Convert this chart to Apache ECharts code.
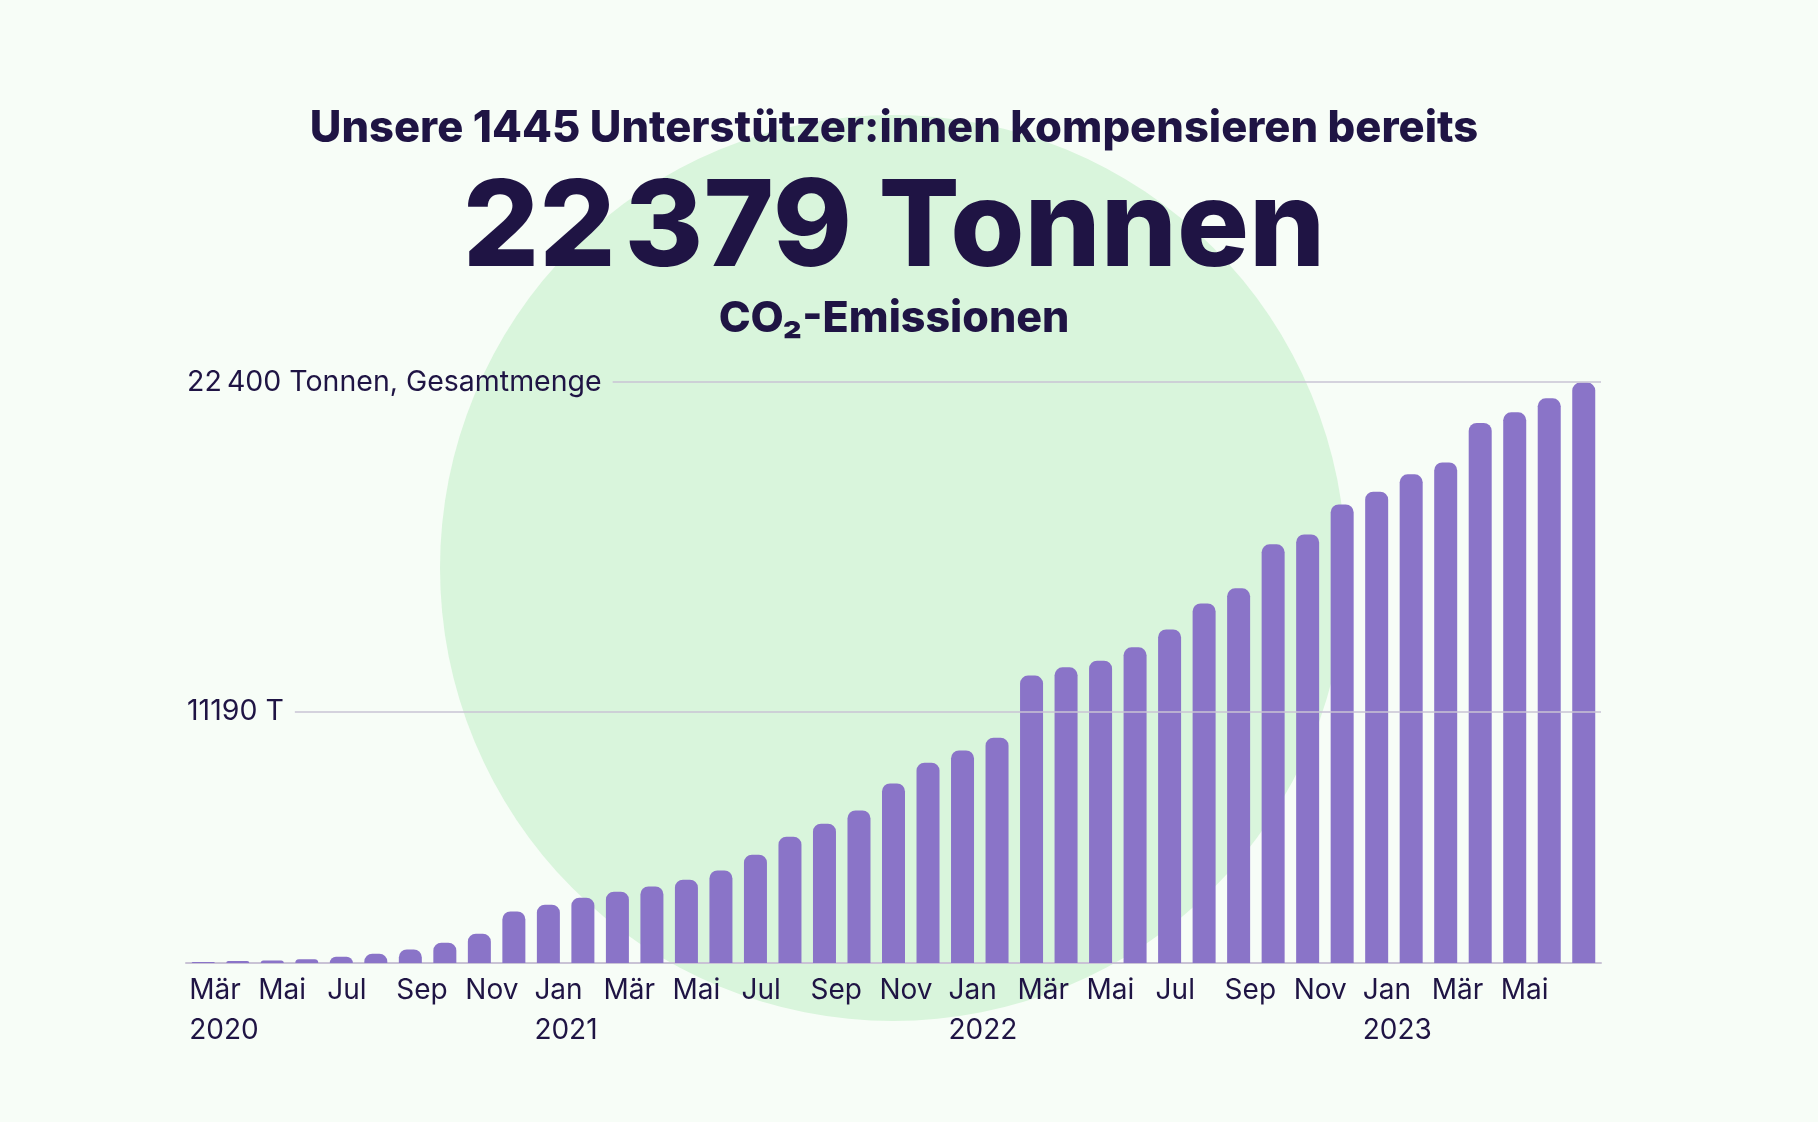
<!DOCTYPE html>
<html lang="de">
<head>
<meta charset="UTF-8">
<title>CO2-Kompensation</title>
<script src="https://cdn.jsdelivr.net/npm/echarts@6.0.0/dist/echarts.min.js"></script>
<style>
  * { margin: 0; padding: 0; box-sizing: border-box; }
  html, body { width: 100%; height: 100%; overflow: hidden; background: #f7fdf7; }
  #chart { width: 1818px; height: 1122px; }
</style>
</head>
<body>
<div id="chart"></div>
<script>
// Monate Mär 2020 bis Jul 2023
const months = ['Mär','Apr','Mai','Jun','Jul','Aug','Sep','Okt','Nov','Dez',
  'Jan','Feb','Mär','Apr','Mai','Jun','Jul','Aug','Sep','Okt','Nov','Dez',
  'Jan','Feb','Mär','Apr','Mai','Jun','Jul','Aug','Sep','Okt','Nov','Dez',
  'Jan','Feb','Mär','Apr','Mai','Jun','Jul'];
// beschriftete Ticks (leer = keine Beschriftung)
const tickMonths = ['Mär','','Mai','','Jul','','Sep','','Nov','',
  'Jan','','Mär','','Mai','','Jul','','Sep','','Nov','',
  'Jan','','Mär','','Mai','','Jul','','Sep','','Nov','',
  'Jan','','Mär','','Mai','',''];
const tickYears = {0: '2020', 10: '2021', 22: '2022', 34: '2023'};

// kumulierte Tonnen CO2
const tonnes = [40, 80, 100, 140, 240, 360, 525, 780, 1130, 1990,
  2250, 2520, 2750, 2950, 3210, 3570, 4175, 4870, 5370, 5880,
  6925, 7720, 8195, 8685, 11080, 11400, 11655, 12170, 12860, 13865,
  14445, 16140, 16525, 17680, 18170, 18840, 19300, 20820, 21230, 21770,
  22379];

const refValues = [22400, 9685];
const refLabels = ['22\u2009400 Tonnen, Gesamtmenge', '11190 T'];

const headline = 'Unsere 1445 Unterstützer:innen kompensieren bereits';
const bigNumber = '22\u200A379 Tonnen';
const subline = 'CO₂-Emissionen';

const ink = '#1f1444';
const font = 'Inter, "Noto Sans", sans-serif';
const labelSize = 28.5;
const gridLeft = 186;
const gridRight = 1601;

// Breite der Beschriftung messen, damit die Linie direkt danach beginnt
const measureCtx = document.createElement('canvas').getContext('2d');
measureCtx.font = labelSize + 'px ' + font;
function textWidth(t) { return measureCtx.measureText(t).width; }

const chart = echarts.init(document.getElementById('chart'));

const refLineData = refValues.map((v, i) => {
  const startX = gridLeft + 1 + textWidth(refLabels[i]) + 11;
  return [
    { x: startX, yAxis: v, label: { formatter: refLabels[i] } },
    { x: gridRight, yAxis: v }
  ];
});

chart.setOption({
  backgroundColor: '#f7fdf7',
  textStyle: { fontFamily: font },
  graphic: [{
    type: 'circle',
    z: 0,
    silent: true,
    shape: { cx: 893, cy: 568, r: 453 },
    style: { fill: '#d9f5dc' }
  }],
  title: [
    {
      text: headline, left: 894, top: 129, padding: 0,
      textAlign: 'center', textVerticalAlign: 'middle',
      textStyle: { color: ink, fontSize: 43.5, fontWeight: 800, fontFamily: font }
    },
    {
      text: bigNumber, left: 894, top: 230, padding: 0,
      textAlign: 'center', textVerticalAlign: 'middle',
      textStyle: { color: ink, fontSize: 120, fontWeight: 800, fontFamily: font }
    },
    {
      text: subline, left: 894, top: 319, padding: 0,
      textAlign: 'center', textVerticalAlign: 'middle',
      textStyle: { color: ink, fontSize: 43, fontWeight: 800, fontFamily: font }
    }
  ],
  grid: { left: gridLeft, right: 1818 - gridRight, top: 382, bottom: 159 },
  xAxis: {
    type: 'category',
    data: months,
    axisLine: { lineStyle: { color: '#c9c3d5', width: 2 } },
    axisTick: { show: false },
    axisLabel: {
      interval: 0,
      align: 'left',
      padding: [0, 0, 0, -14],
      margin: 8,
      color: ink,
      fontSize: 28,
      lineHeight: 40,
      fontFamily: font,
      formatter: (v, i) => {
        if (!tickMonths[i]) return '';
        return tickYears[i] ? tickMonths[i] + '\n' + tickYears[i] : tickMonths[i];
      }
    }
  },
  yAxis: {
    type: 'value',
    min: 0,
    max: 22400,
    axisLabel: { show: false },
    axisLine: { show: false },
    axisTick: { show: false },
    splitLine: { show: false }
  },
  series: [{
    type: 'bar',
    data: tonnes,
    barWidth: 23,
    itemStyle: { color: '#8a74c8', borderRadius: [8, 8, 0, 0] },
    silent: true,
    markLine: {
      silent: true,
      symbol: 'none',
      lineStyle: { color: '#c9c3d5', width: 1.5, type: 'solid' },
      label: {
        position: 'start', distance: 11, color: ink,
        fontSize: labelSize, fontFamily: font, padding: [4, 0, 0, 0]
      },
      data: refLineData
    }
  }]
});
</script>
</body>
</html>
